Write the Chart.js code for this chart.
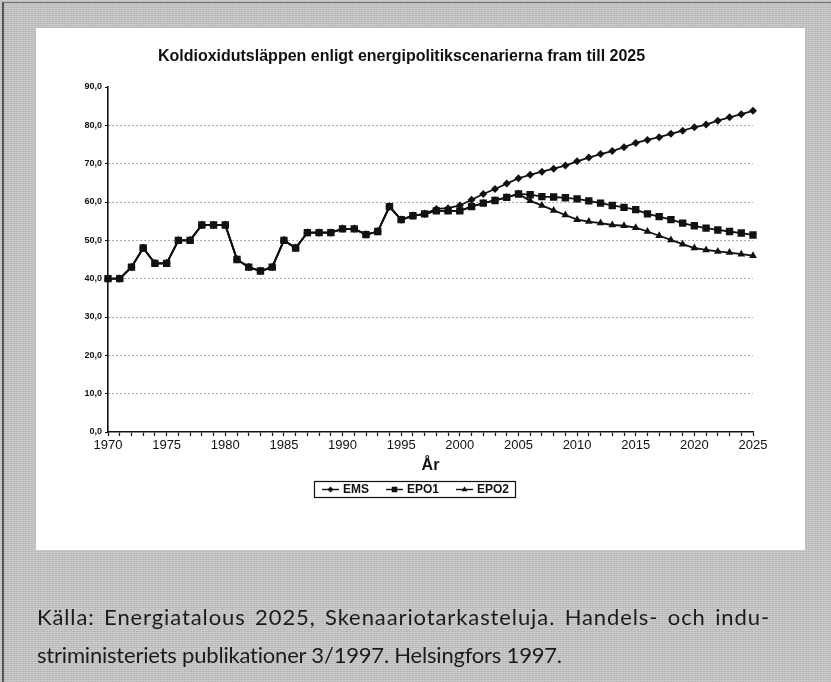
<!DOCTYPE html>
<html>
<head>
<meta charset="utf-8">
<script src="https://cdn.jsdelivr.net/npm/chart.js@4.4.1/dist/chart.umd.min.js"></script>
<style>
  html, body { margin: 0; padding: 0; }
  body {
    width: 831px; height: 682px; position: relative; overflow: hidden;
    background-color: #c8c8c8;
    background-image:
      repeating-linear-gradient(0deg, rgba(0,0,0,0.08) 0 1px, transparent 1px 2px),
      repeating-linear-gradient(90deg, rgba(255,255,255,0.12) 0 1px, transparent 1px 3px);
  }
  #frame { position: absolute; left: 2px; top: 2px; right: 0; bottom: 0; border-left: 2px solid #555; border-top: 1px solid #777; }
  #panel { position: absolute; left: 36px; top: 28px; width: 769px; height: 522px; background: #fff; }
  #chart { position: absolute; left: 0; top: 0; }
  .note {
    position: absolute; left: 37px; font-family: Lato, "Open Sans", sans-serif;
    font-size: 22px; line-height: 26px; color: #1c1c1c; letter-spacing: -0.2px;
  }
  #note1 { top: 604px; width: 733px; text-align: justify; text-align-last: justify; letter-spacing: 0.9px; }
  #note2 { top: 642px; white-space: nowrap; }
</style>
</head>
<body>
<div id="frame"></div>
<div id="panel"></div>
<canvas id="chart" width="831" height="682"></canvas>
<div class="note" id="note1">Källa: Energiatalous 2025, Skenaariotarkasteluja. Handels- och indu-</div>
<div class="note" id="note2">striministeriets publikationer 3/1997. Helsingfors 1997.</div>
<script>
const titleText = 'Koldioxidutsläppen enligt energipolitikscenarierna fram till 2025';

const years = [1970, 1971, 1972, 1973, 1974, 1975, 1976, 1977, 1978, 1979,
  1980, 1981, 1982, 1983, 1984, 1985, 1986, 1987, 1988, 1989,
  1990, 1991, 1992, 1993, 1994, 1995, 1996, 1997, 1998, 1999,
  2000, 2001, 2002, 2003, 2004, 2005, 2006, 2007, 2008, 2009,
  2010, 2011, 2012, 2013, 2014, 2015, 2016, 2017, 2018, 2019,
  2020, 2021, 2022, 2023, 2024, 2025];

// 1970-1997, shared by all scenarios
const history = [40, 40, 43, 48, 44, 44, 50, 50, 54, 54,
  54, 45, 43, 42, 43, 50, 48, 52, 52, 52,
  53, 53, 51.5, 52.3, 58.8, 55.4, 56.4, 56.9];

// 1998-2025
const emsScenario = [58.2, 58.4, 59.1, 60.6, 62.1, 63.4, 64.8, 66.2, 67.1, 67.9,
  68.7, 69.5, 70.6, 71.6, 72.5, 73.3, 74.3, 75.4, 76.2, 76.9,
  77.8, 78.6, 79.5, 80.2, 81.2, 82.1, 82.9, 83.8];
const epo1Scenario = [57.7, 57.7, 57.7, 58.8, 59.7, 60.4, 61.2, 62.1, 61.9, 61.4,
  61.3, 61.1, 60.8, 60.3, 59.7, 59.1, 58.6, 58.0, 56.9, 56.2,
  55.4, 54.5, 53.8, 53.2, 52.7, 52.3, 51.9, 51.4];
const epo2Scenario = [57.7, 57.7, 57.7, 58.8, 59.7, 60.4, 61.2, 62.1, 60.3, 59.1,
  57.8, 56.6, 55.4, 54.9, 54.5, 54.0, 53.8, 53.3, 52.3, 51.2,
  50.1, 49.0, 48.0, 47.5, 47.1, 46.8, 46.4, 46.0];

const ink = '#111';
const fontFamily = '"Liberation Sans", Arial, sans-serif';
Chart.defaults.font.family = fontFamily;

// title sits a bit left of the plot centre in the original
const titlePlugin = {
  id: 'panelTitle',
  afterDraw(chart) {
    const a = chart.chartArea, ctx = chart.ctx;
    ctx.save();
    ctx.font = 'bold 16px ' + fontFamily;
    ctx.fillStyle = ink;
    ctx.textAlign = 'center';
    ctx.textBaseline = 'middle';
    ctx.fillText(titleText, (a.left + a.right) / 2 - 29, a.top - 30);
    ctx.restore();
  }
};

// boxed legend with line + marker samples, like Excel
const boxLegend = {
  id: 'boxLegend',
  afterDraw(chart) {
    const a = chart.chartArea, ctx = chart.ctx;
    const top = a.bottom + 49, h = 16;
    ctx.save();
    ctx.font = 'bold 12px ' + fontFamily;
    const sets = chart.data.datasets;
    let total = 8;
    sets.forEach((d, i) => {
      total += 21 + ctx.measureText(d.label).width + (i < sets.length - 1 ? 17 : 0);
    });
    total += 6;
    const left = (a.left + a.right) / 2 - 16 - total / 2;
    ctx.strokeStyle = ink;
    ctx.lineWidth = 1.2;
    ctx.strokeRect(Math.round(left) + 0.5, top + 0.5, Math.round(total), h);
    let x = left + 8;
    const cy = top + h / 2 + 0.5;
    sets.forEach(d => {
      ctx.beginPath();
      ctx.lineWidth = 1.4;
      ctx.moveTo(x, cy);
      ctx.lineTo(x + 17, cy);
      ctx.stroke();
      ctx.fillStyle = ink;
      Chart.helpers.drawPoint(ctx, { pointStyle: d.pointStyle, radius: d.pointRadius * 0.75, rotation: 0, borderWidth: 0 }, x + 8.5, cy);
      ctx.fillStyle = ink;
      ctx.textBaseline = 'middle';
      ctx.textAlign = 'left';
      ctx.fillText(d.label, x + 21, cy + 0.5);
      x += 21 + ctx.measureText(d.label).width + 17;
    });
    ctx.restore();
  }
};

const lineStyle = {
  borderColor: ink, backgroundColor: ink, borderWidth: 1.8,
  pointBackgroundColor: ink, pointBorderColor: ink, pointBorderWidth: 0,
  tension: 0, fill: false
};

new Chart(document.getElementById('chart'), {
  type: 'line',
  data: {
    labels: years,
    datasets: [
      Object.assign({ label: 'EMS', data: history.concat(emsScenario), pointStyle: 'rectRot', pointRadius: 4, order: 1 }, lineStyle),
      Object.assign({ label: 'EPO1', data: history.concat(epo1Scenario), pointStyle: 'rect', pointRadius: 5.2, order: 0 }, lineStyle),
      Object.assign({ label: 'EPO2', data: history.concat(epo2Scenario), pointStyle: 'triangle', pointRadius: 4.5, order: 2 }, lineStyle)
    ]
  },
  options: {
    responsive: false,
    animation: false,
    layout: { padding: { top: 87, right: 78, bottom: 200, left: 0 } },
    plugins: {
      legend: { display: false },
      title: { display: false },
      tooltip: { enabled: false }
    },
    scales: {
      x: {
        type: 'category',
        offset: false,
        grid: { drawOnChartArea: false, drawTicks: true, tickLength: 4, tickColor: ink, tickWidth: 1.2 },
        border: { color: ink, width: 1.6 },
        ticks: {
          autoSkip: false, maxRotation: 0, padding: 2, color: ink,
          font: { size: 13 },
          callback: (v, i) => (years[i] % 5 === 0 ? String(years[i]) : '')
        },
        title: {
          display: true, text: 'År', color: ink,
          font: { size: 16, weight: 'bold' },
          padding: { top: 0, bottom: 7 }
        },
        afterFit: s => { s.height = 50; }
      },
      y: {
        min: 0, max: 90,
        ticks: {
          stepSize: 10, padding: 3, color: ink,
          font: { size: 9, weight: 'bold' },
          callback: v => v.toFixed(1).replace('.', ',')
        },
        grid: {
          color: c => (c.tick && (c.tick.value === 0 || c.tick.value === 90)) ? 'rgba(0,0,0,0)' : '#555',
          lineWidth: 1, tickLength: 3, tickColor: ink, tickBorderDash: []
        },
        border: { color: ink, width: 1.6, dash: [1, 3] },
        afterFit: s => { s.width = 108; }
      }
    }
  },
  plugins: [titlePlugin, boxLegend]
});
</script>
</body>
</html>
